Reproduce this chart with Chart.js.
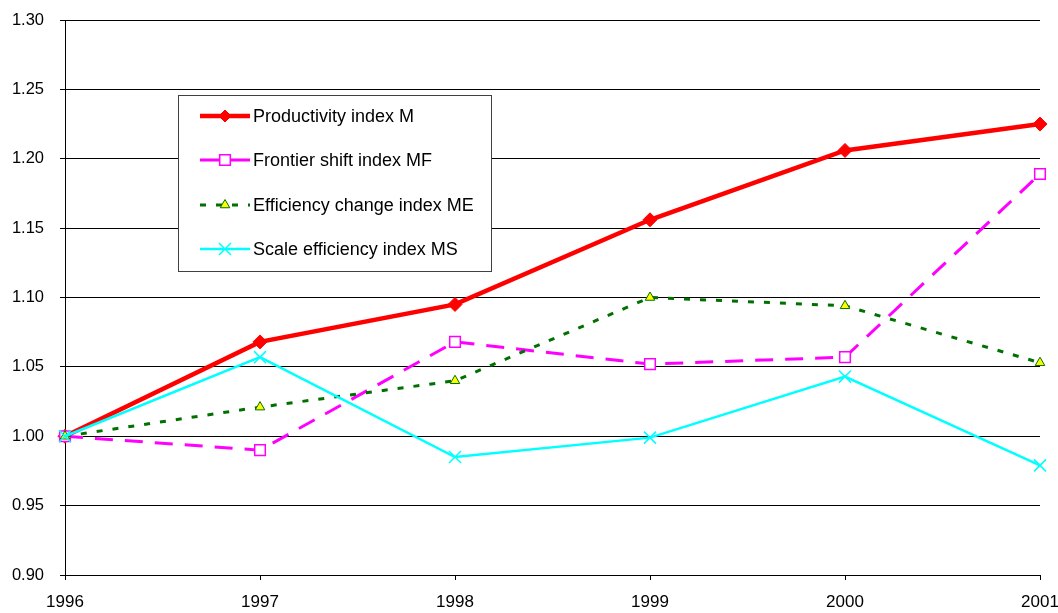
<!DOCTYPE html>
<html>
<head>
<meta charset="utf-8">
<script src="https://cdn.jsdelivr.net/npm/chart.js@4.4.1/dist/chart.umd.min.js"></script>
<style>
  html, body { margin: 0; padding: 0; background: #ffffff; }
  #wrap { width: 1058px; height: 613px; }
</style>
</head>
<body>
<div id="wrap"><canvas id="c" width="1058" height="613"></canvas></div>
<script>
// Years on the category axis
const years = ['1996', '1997', '1998', '1999', '2000', '2001'];

// Index series (1996 = 1.00)
const productivityM = [1.000, 1.068, 1.095, 1.156, 1.206, 1.225];
const frontierMF    = [1.000, 0.990, 1.068, 1.052, 1.057, 1.189];
const efficiencyME  = [1.000, 1.021, 1.040, 1.100, 1.094, 1.053];
const scaleMS       = [1.000, 1.057, 0.985, 0.999, 1.043, 0.979];

// Series names
const seriesNames = [
  'Productivity index M',
  'Frontier shift index MF',
  'Efficiency change index ME',
  'Scale efficiency index MS'
];

// Value axis range
const yMin = 0.90, yMax = 1.30, yStep = 0.05;

const FONT = 'Arial, "Liberation Sans", sans-serif';

// Boxed legend drawn inside the plot area
const boxLegend = {
  id: 'boxLegend',
  afterDraw(chart) {
    const ctx = chart.ctx;
    const bx = 178.5, by = 95.5, bw = 313, bh = 176;
    ctx.save();
    ctx.fillStyle = '#ffffff';
    ctx.fillRect(bx, by, bw, bh);
    ctx.strokeStyle = '#404040';
    ctx.lineWidth = 1;
    ctx.strokeRect(bx, by, bw, bh);
    const rows = [116, 160, 205, 249];
    const cx = 225;
    chart.data.datasets.forEach((ds, i) => {
      const y = rows[i];
      ctx.save();
      ctx.strokeStyle = ds.borderColor;
      ctx.lineWidth = ds.borderWidth;
      ctx.setLineDash(ds.legendDash || []);
      ctx.beginPath();
      ctx.moveTo(200, y);
      ctx.lineTo(250, y);
      ctx.stroke();
      ctx.restore();
      ctx.save();
      ctx.fillStyle = ds.pointBackgroundColor;
      ctx.strokeStyle = ds.pointBorderColor;
      ctx.lineWidth = ds.pointBorderWidth;
      ctx.setLineDash([]);
      ctx.beginPath();
      const r = ds.legendRadius;
      if (ds.pointStyle === 'rectRot') {
        ctx.moveTo(cx, y - r); ctx.lineTo(cx + r, y); ctx.lineTo(cx, y + r); ctx.lineTo(cx - r, y); ctx.closePath();
        ctx.fill(); ctx.stroke();
      } else if (ds.pointStyle === 'rect') {
        const h = r * Math.SQRT1_2;
        ctx.rect(cx - h, y - h, 2 * h, 2 * h);
        ctx.fill(); ctx.stroke();
      } else if (ds.pointStyle === 'triangle') {
        ctx.moveTo(cx, y - r); ctx.lineTo(cx + r * 0.866, y + r * 0.5); ctx.lineTo(cx - r * 0.866, y + r * 0.5); ctx.closePath();
        ctx.fill(); ctx.stroke();
      } else if (ds.pointStyle === 'crossRot') {
        const h = r * Math.SQRT1_2;
        ctx.moveTo(cx - h, y - h); ctx.lineTo(cx + h, y + h);
        ctx.moveTo(cx - h, y + h); ctx.lineTo(cx + h, y - h);
        ctx.stroke();
      }
      ctx.restore();
      ctx.fillStyle = '#000000';
      ctx.font = '18px ' + FONT;
      ctx.textBaseline = 'middle';
      ctx.textAlign = 'left';
      ctx.fillText(ds.label, 253, y + 1);
    });
    ctx.restore();
  }
};

new Chart(document.getElementById('c'), {
  type: 'line',
  data: {
    labels: years,
    datasets: [
      {
        label: seriesNames[0], data: productivityM, order: 4,
        borderColor: '#ff0000', borderWidth: 4.5,
        pointStyle: 'rectRot', pointRadius: 7, legendRadius: 6,
        pointBackgroundColor: '#ff0000', pointBorderColor: '#ff0000', pointBorderWidth: 1
      },
      {
        label: seriesNames[1], data: frontierMF, order: 3,
        borderColor: '#ff00ff', borderWidth: 3, borderDash: [18, 12],
        pointStyle: 'rect', pointRadius: 7.5, legendRadius: 7.5,
        pointBackgroundColor: '#ffffff', pointBorderColor: '#ff00ff', pointBorderWidth: 1.5
      },
      {
        label: seriesNames[2], data: efficiencyME, order: 2,
        borderColor: '#007000', borderWidth: 3, borderDash: [6, 10], legendDash: [6, 10],
        pointStyle: 'triangle', pointRadius: 5.5, legendRadius: 5.5,
        pointBackgroundColor: '#ffff00', pointBorderColor: '#007000', pointBorderWidth: 1
      },
      {
        label: seriesNames[3], data: scaleMS, order: 1,
        borderColor: '#00ffff', borderWidth: 2.5,
        pointStyle: 'crossRot', pointRadius: 8.5, legendRadius: 8.5,
        pointBackgroundColor: '#00ffff', pointBorderColor: '#00ffff', pointBorderWidth: 1.5
      }
    ]
  },
  options: {
    responsive: false,
    animation: false,
    devicePixelRatio: 1,
    layout: { padding: { top: 20, right: 18, left: 0, bottom: 0 } },
    elements: { line: { tension: 0, fill: false }, point: { hoverRadius: 6 } },
    plugins: { legend: { display: false }, tooltip: { enabled: false } },
    scales: {
      x: {
        type: 'category',
        offset: false,
        grid: { drawOnChartArea: false, drawTicks: true, tickLength: 5, color: '#000000' },
        border: { color: '#000000', width: 1 },
        ticks: { color: '#000000', font: { family: FONT, size: 17 }, padding: 12, maxRotation: 0, autoSkip: false },
        afterFit(s) { s.height = 38; s.paddingLeft = 0; s.paddingRight = 0; }
      },
      y: {
        min: yMin, max: yMax,
        grid: { color: '#000000', lineWidth: 1, tickLength: 5 },
        border: { color: '#000000', width: 1 },
        ticks: {
          stepSize: yStep, color: '#000000', font: { family: FONT, size: 16.5 }, padding: 16,
          callback: v => v.toFixed(2)
        },
        afterFit(s) { s.width = 65; s.paddingTop = 0; s.paddingBottom = 0; }
      }
    }
  },
  plugins: [boxLegend]
});
</script>
</body>
</html>
